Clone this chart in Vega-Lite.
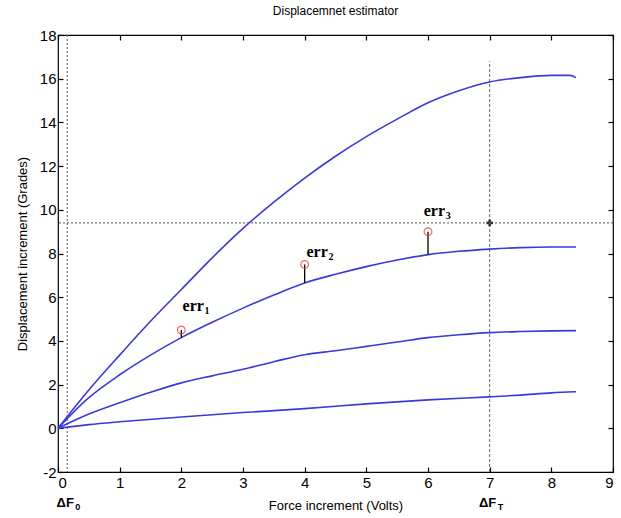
{
  "$schema": "https://vega.github.io/schema/vega-lite/v6.json",
  "width": 555,
  "height": 437,
  "autosize": {"type": "none"},
  "padding": {"left": 58, "top": 35, "right": 8, "bottom": 46},
  "background": "white",
  "title": {"text": "Displacemnet estimator", "fontSize": 12, "font": "Liberation Sans", "fontWeight": "normal", "color": "black", "offset": 10, "anchor": "middle"},
  "config": {
    "view": {"stroke": "black", "strokeWidth": 1.2},
    "axis": {"grid": false, "domain": false, "tickColor": "black", "tickSize": -5, "tickWidth": 1.2, "labelFont": "Liberation Sans", "labelFontSize": 15, "labelColor": "black", "titleFont": "Liberation Sans", "titleFontSize": 13, "titleFontWeight": "normal", "titleColor": "black"}
  },
  "datasets": {
    "curves": [
      {"c": "a", "x": 0, "y": 0}, {"c": "a", "x": 0.5, "y": 1.75}, {"c": "a", "x": 1, "y": 3.35}, {"c": "a", "x": 1.5, "y": 4.9}, {"c": "a", "x": 2, "y": 6.35}, {"c": "a", "x": 2.5, "y": 7.8}, {"c": "a", "x": 3, "y": 9.15}, {"c": "a", "x": 3.5, "y": 10.35}, {"c": "a", "x": 4, "y": 11.45}, {"c": "a", "x": 4.5, "y": 12.45}, {"c": "a", "x": 5, "y": 13.35}, {"c": "a", "x": 5.5, "y": 14.15}, {"c": "a", "x": 6, "y": 14.9}, {"c": "a", "x": 6.5, "y": 15.45}, {"c": "a", "x": 7, "y": 15.85}, {"c": "a", "x": 7.5, "y": 16.05}, {"c": "a", "x": 8, "y": 16.15}, {"c": "a", "x": 8.3, "y": 16.15}, {"c": "a", "x": 8.4, "y": 16.05},
      {"c": "b", "x": 0, "y": 0}, {"c": "b", "x": 0.5, "y": 1.4}, {"c": "b", "x": 1, "y": 2.45}, {"c": "b", "x": 1.5, "y": 3.35}, {"c": "b", "x": 2, "y": 4.15}, {"c": "b", "x": 2.5, "y": 4.85}, {"c": "b", "x": 3, "y": 5.5}, {"c": "b", "x": 3.5, "y": 6.1}, {"c": "b", "x": 4, "y": 6.65}, {"c": "b", "x": 4.5, "y": 7.05}, {"c": "b", "x": 5, "y": 7.4}, {"c": "b", "x": 5.5, "y": 7.7}, {"c": "b", "x": 6, "y": 7.95}, {"c": "b", "x": 6.5, "y": 8.1}, {"c": "b", "x": 7, "y": 8.2}, {"c": "b", "x": 7.5, "y": 8.27}, {"c": "b", "x": 8, "y": 8.3}, {"c": "b", "x": 8.4, "y": 8.3},
      {"c": "c", "x": 0, "y": 0}, {"c": "c", "x": 0.5, "y": 0.65}, {"c": "c", "x": 1, "y": 1.17}, {"c": "c", "x": 1.5, "y": 1.65}, {"c": "c", "x": 2, "y": 2.08}, {"c": "c", "x": 2.5, "y": 2.4}, {"c": "c", "x": 3, "y": 2.7}, {"c": "c", "x": 3.5, "y": 3.05}, {"c": "c", "x": 4, "y": 3.37}, {"c": "c", "x": 4.5, "y": 3.55}, {"c": "c", "x": 5, "y": 3.75}, {"c": "c", "x": 5.5, "y": 3.95}, {"c": "c", "x": 6, "y": 4.15}, {"c": "c", "x": 6.5, "y": 4.28}, {"c": "c", "x": 7, "y": 4.38}, {"c": "c", "x": 7.5, "y": 4.43}, {"c": "c", "x": 8, "y": 4.46}, {"c": "c", "x": 8.4, "y": 4.47},
      {"c": "d", "x": 0, "y": 0}, {"c": "d", "x": 0.5, "y": 0.17}, {"c": "d", "x": 1, "y": 0.3}, {"c": "d", "x": 2, "y": 0.52}, {"c": "d", "x": 3, "y": 0.72}, {"c": "d", "x": 4, "y": 0.9}, {"c": "d", "x": 5, "y": 1.12}, {"c": "d", "x": 6, "y": 1.3}, {"c": "d", "x": 7, "y": 1.44}, {"c": "d", "x": 7.5, "y": 1.52}, {"c": "d", "x": 8, "y": 1.62}, {"c": "d", "x": 8.4, "y": 1.67}
    ],
    "errs": [
      {"x": 2, "y": 4.5, "y2": 4.15, "lx": 2.02, "ly": 5.6, "n": "1"},
      {"x": 4, "y": 7.5, "y2": 6.65, "lx": 4.03, "ly": 8.05, "n": "2"},
      {"x": 6, "y": 9.0, "y2": 7.95, "lx": 5.93, "ly": 9.95, "n": "3"}
    ],
    "deltas": [
      {"x": 0.15, "n": "0"},
      {"x": 7.0, "n": "T"}
    ]
  },
  "layer": [
    {
      "data": {"values": [{"y": 9.4}]},
      "mark": {"type": "rule", "color": "#555555", "strokeDash": [2, 2], "strokeWidth": 1},
      "encoding": {"y": {"field": "y", "type": "quantitative", "axis": null}}
    },
    {
      "data": {"values": [{"x": 0.15}]},
      "mark": {"type": "rule", "color": "#777777", "strokeDash": [2, 2], "strokeWidth": 1.2},
      "encoding": {"x": {"field": "x", "type": "quantitative", "axis": null}}
    },
    {
      "data": {"values": [{"x": 7, "y": -2, "y2": 16.8}]},
      "mark": {"type": "rule", "color": "#666666", "strokeDash": [3, 2], "strokeWidth": 1},
      "encoding": {"x": {"field": "x", "type": "quantitative", "axis": null}, "y": {"field": "y", "type": "quantitative", "axis": null}, "y2": {"field": "y2"}}
    },
    {
      "data": {"name": "curves"},
      "mark": {"type": "line", "color": "#3a3ad8", "strokeWidth": 1.6, "interpolate": "monotone"},
      "encoding": {
        "x": {"field": "x", "type": "quantitative", "scale": {"domain": [0, 9], "nice": false, "zero": false}, "axis": {"orient": "bottom", "values": [0,1,2,3,4,5,6,7,8,9], "title": "Force increment (Volts)", "labelPadding": 8, "titlePadding": 9}},
        "y": {"field": "y", "type": "quantitative", "scale": {"domain": [-2, 18], "nice": false, "zero": false}, "axis": {"orient": "left", "values": [-2,0,2,4,6,8,10,12,14,16,18], "labelExpr": "datum.value < 0 ? '-' + abs(datum.value) : datum.label", "title": "Displacement increment (Grades)", "labelPadding": 7, "titlePadding": 10}},
        "detail": {"field": "c"}
      }
    },
    {
      "data": {"name": "errs"},
      "mark": {"type": "rule", "color": "black", "strokeWidth": 1.3},
      "encoding": {"x": {"field": "x", "type": "quantitative", "axis": null}, "y": {"field": "y", "type": "quantitative", "axis": null}, "y2": {"field": "y2"}}
    },
    {
      "data": {"name": "errs"},
      "mark": {"type": "point", "shape": "circle", "color": "#e03030", "filled": false, "size": 60, "strokeWidth": 1.2},
      "encoding": {
        "x": {"field": "x", "type": "quantitative", "axis": {"orient": "top", "values": [0,1,2,3,4,5,6,7,8,9], "labels": false, "title": null}},
        "y": {"field": "y", "type": "quantitative", "axis": {"orient": "right", "values": [-2,0,2,4,6,8,10,12,14,16,18], "labels": false, "title": null}}
      }
    },
    {
      "data": {"values": [{"x": 7, "y": 9.4}]},
      "mark": {"type": "point", "shape": "cross", "color": "black", "filled": true, "size": 45},
      "encoding": {"x": {"field": "x", "type": "quantitative", "axis": null}, "y": {"field": "y", "type": "quantitative", "axis": null}}
    },
    {
      "data": {"name": "errs"},
      "mark": {"type": "text", "text": "err", "font": "Liberation Serif", "fontWeight": "bold", "fontSize": 16, "align": "left", "baseline": "middle"},
      "encoding": {"x": {"field": "lx", "type": "quantitative", "axis": null}, "y": {"field": "ly", "type": "quantitative", "axis": null}}
    },
    {
      "data": {"name": "errs"},
      "mark": {"type": "text", "font": "Liberation Serif", "fontWeight": "bold", "fontSize": 10, "align": "left", "baseline": "middle", "dx": 22, "dy": 5},
      "encoding": {"x": {"field": "lx", "type": "quantitative", "axis": null}, "y": {"field": "ly", "type": "quantitative", "axis": null}, "text": {"field": "n"}}
    },
    {
      "data": {"name": "deltas"},
      "mark": {"type": "text", "text": "ΔF", "font": "Liberation Sans", "fontWeight": "bold", "fontSize": 13, "align": "center", "baseline": "middle", "y": 468, "dx": -2},
      "encoding": {"x": {"field": "x", "type": "quantitative", "axis": null}}
    },
    {
      "data": {"name": "deltas"},
      "mark": {"type": "text", "font": "Liberation Sans", "fontWeight": "bold", "fontSize": 9, "align": "left", "baseline": "middle", "y": 472, "dx": 8},
      "encoding": {"x": {"field": "x", "type": "quantitative", "axis": null}, "text": {"field": "n"}}
    }
  ]
}
